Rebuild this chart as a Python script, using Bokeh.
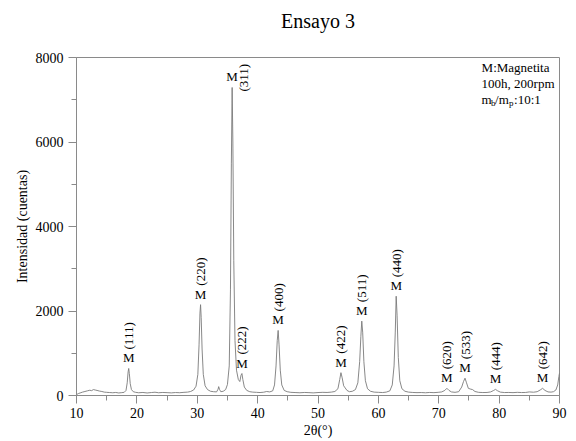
import math
from bokeh.plotting import figure
from bokeh.models import Range1d, ColumnDataSource, FixedTicker
from bokeh.core.properties import value
from bokeh.embed import file_html
from bokeh.resources import INLINE

# ---- data ----
two_theta = [
    10.0, 10.3, 10.6, 11.0, 11.4, 11.8, 12.2, 12.5, 12.8, 13.1, 13.4, 13.8, 14.2, 14.6, 15.0,
    15.5, 16.0, 16.5, 17.0, 17.5, 17.9, 18.2, 18.4, 18.55, 18.65, 18.75, 18.9, 19.1, 19.4, 19.8,
    20.3, 21.0, 21.7, 22.4, 23.0, 23.6, 24.3, 25.0, 25.7, 26.4, 27.1, 27.8, 28.4, 28.9, 29.4,
    29.8, 30.1, 30.3, 30.45, 30.55, 30.65, 30.8, 31.0, 31.3, 31.7, 32.2, 32.7, 33.2, 33.45, 33.55,
    33.7, 33.9, 34.3, 34.7, 35.0, 35.3, 35.5, 35.65, 35.78, 35.9, 36.05, 36.25, 36.5, 36.8, 37.05,
    37.25, 37.4, 37.55, 37.8, 38.2, 38.7, 39.2, 39.8, 40.4, 41.0, 41.5, 42.0, 42.5, 42.8, 43.05,
    43.25, 43.4, 43.55, 43.75, 44.0, 44.4, 44.9, 45.5, 46.2, 47.0, 47.8, 48.5, 49.2, 50.0, 50.8,
    51.5, 52.2, 52.8, 53.3, 53.6, 53.8, 54.0, 54.25, 54.5, 54.8, 55.2, 55.7, 56.2, 56.6, 56.9,
    57.1, 57.25, 57.4, 57.6, 57.85, 58.2, 58.7, 59.3, 60.0, 60.7, 61.3, 61.9, 62.3, 62.6, 62.8,
    62.95, 63.1, 63.3, 63.55, 63.9, 64.4, 65.0, 65.7, 66.4, 67.1, 67.8, 68.5, 69.2, 69.9, 70.5,
    71.0, 71.35, 71.7, 72.1, 72.7, 73.3, 73.8, 74.1, 74.35, 74.6, 74.9, 75.3, 75.6, 76.0, 76.6,
    77.3, 78.0, 78.6, 79.1, 79.4, 79.7, 80.2, 80.9, 81.6, 82.3, 83.0, 83.7, 84.4, 85.0, 85.7,
    86.3, 86.8, 87.2, 87.6, 88.1, 88.6, 89.0, 89.4, 89.7, 89.9, 90.0,
]
counts = [
    20, 45, 60, 80, 95, 110, 125, 115, 140, 130, 120, 105, 95, 80, 75,
    70, 65, 72, 60, 68, 75, 120, 300, 560, 640, 520, 280, 140, 90, 75,
    65, 72, 60, 70, 78, 65, 72, 68, 62, 70, 66, 75, 80, 95, 130,
    220, 500, 1200, 1950, 2150, 1850, 1100, 500, 230, 140, 100, 90, 85, 150, 210,
    140, 90, 100, 140, 260, 700, 2500, 5500, 7290, 6000, 3200, 1300, 600, 380, 330,
    480, 520, 380, 200, 120, 90, 80, 75, 70, 78, 95, 85, 110, 250, 700,
    1300, 1540, 1200, 600, 250, 120, 90, 75, 70, 65, 72, 68, 62, 70, 75,
    72, 80, 95, 160, 380, 540, 420, 230, 180, 120, 90, 100, 140, 300, 800,
    1400, 1760, 1500, 800, 350, 160, 100, 80, 75, 70, 80, 110, 250, 700, 1500,
    2350, 1900, 900, 350, 160, 100, 80, 72, 68, 70, 65, 72, 68, 75, 85,
    120, 170, 120, 85, 75, 90, 200, 330, 410, 300, 170, 150, 140, 95, 75,
    70, 72, 85, 120, 145, 115, 80, 70, 72, 68, 75, 70, 72, 85, 78,
    90, 130, 170, 120, 85, 80, 90, 130, 250, 450, 530,
]

peak_pos = [18.65, 30.55, 35.78, 37.4, 43.4, 53.8, 57.25, 62.95, 71.35, 74.35, 79.4, 87.2]
peak_height = [640, 2150, 7290, 520, 1540, 540, 1760, 2350, 170, 410, 145, 170]
peak_phase = ["M"] * 12
peak_hkl = ["(111)", "(220)", "(311)", "(222)", "(400)", "(422)", "(511)", "(440)",
            "(620)", "(533)", "(444)", "(642)"]

title_text = "Ensayo 3"
x_label = "2θ(°)"
y_label = "Intensidad (cuentas)"
note_lines = ["M:Magnetita", "100h, 200rpm"]

SERIF = "Liberation Serif"
GRAY = "#8a8a8a"

p = figure(width=576, height=441, output_backend="svg", toolbar_location=None,
           x_range=Range1d(10, 90), y_range=Range1d(0, 8000),
           min_border_left=76, min_border_right=17, min_border_top=57, min_border_bottom=46)
p.background_fill_color = "white"
p.border_fill_color = "white"
p.outline_line_color = GRAY
p.outline_line_width = 1
p.xgrid.visible = False
p.ygrid.visible = False

# a trailing blank line lifts the title away from the frame
p.title.text = title_text + "\n "
p.title.align = "center"
p.title.standoff = 8
p.title.text_font = SERIF
p.title.text_font_size = "20px"
p.title.text_font_style = "normal"
p.title.text_color = "black"

p.xaxis.ticker = FixedTicker(ticks=[10, 20, 30, 40, 50, 60, 70, 80, 90],
                             minor_ticks=[15, 25, 35, 45, 55, 65, 75, 85])
p.yaxis.ticker = FixedTicker(ticks=[0, 2000, 4000, 6000, 8000],
                             minor_ticks=[1000, 3000, 5000, 7000])
for ax in (p.xaxis[0], p.yaxis[0]):
    ax.axis_line_color = GRAY
    ax.major_tick_line_color = GRAY
    ax.minor_tick_line_color = GRAY
    ax.major_tick_in = 0
    ax.major_tick_out = 8
    ax.minor_tick_in = 0
    ax.minor_tick_out = 5
    ax.major_label_text_font = SERIF
    ax.major_label_text_font_size = "14px"
    ax.major_label_text_color = "black"
    ax.axis_label_text_font = SERIF
    ax.axis_label_text_font_size = "14px"
    ax.axis_label_text_font_style = "normal"
    ax.axis_label_text_color = "black"
p.xaxis.axis_label = x_label
p.yaxis.axis_label = y_label
p.xaxis.major_label_standoff = 4
p.xaxis.axis_label_standoff = 2
p.yaxis.major_label_standoff = 5
p.yaxis.axis_label_standoff = 3

# pattern
p.line(two_theta, counts, line_color="#7a7a7a", line_width=0.9)

# peak labels
m_src = ColumnDataSource(dict(x=peak_pos, y=peak_height, t=peak_phase))
p.text(x="x", y="y", text="t", source=m_src, text_font=value(SERIF),
       text_font_size=value("13px"), text_align="center", text_baseline="bottom",
       y_offset=-3, text_color="black")

hkl_xoff = [11 if h == "(311)" else 0 for h in peak_hkl]
hkl_yoff = [4 if h == "(311)" else -19 for h in peak_hkl]
h_src = ColumnDataSource(dict(x=peak_pos, y=peak_height, t=peak_hkl,
                              xo=hkl_xoff, yo=hkl_yoff))
p.text(x="x", y="y", text="t", source=h_src, angle=math.pi / 2,
       text_font=value(SERIF), text_font_size=value("13px"),
       text_align="left", text_baseline="middle",
       x_offset="xo", y_offset="yo", text_color="black")

# note in the upper right
nx = 77.1
p.text(x=[nx, nx], y=[7763, 7385], text=note_lines, text_font=value(SERIF),
       text_font_size=value("13px"), text_align="left", text_baseline="middle",
       text_color="black")
ny = 7006
parts = ["m", "b", "/m", "p", ":10:1"]
offs = [0, 9.5, 13.5, 27.5, 32.5]
dys = [0, 4, 0, 4, 0]
sizes = ["13px", "9px", "13px", "9px", "13px"]
p.text(x=[nx] * 5, y=[ny] * 5, text=parts, x_offset=offs, y_offset=dys,
       text_font=value(SERIF), text_font_size=sizes,
       text_align="left", text_baseline="middle", text_color="black")

open("out.html", "w").write(file_html(p, INLINE))
